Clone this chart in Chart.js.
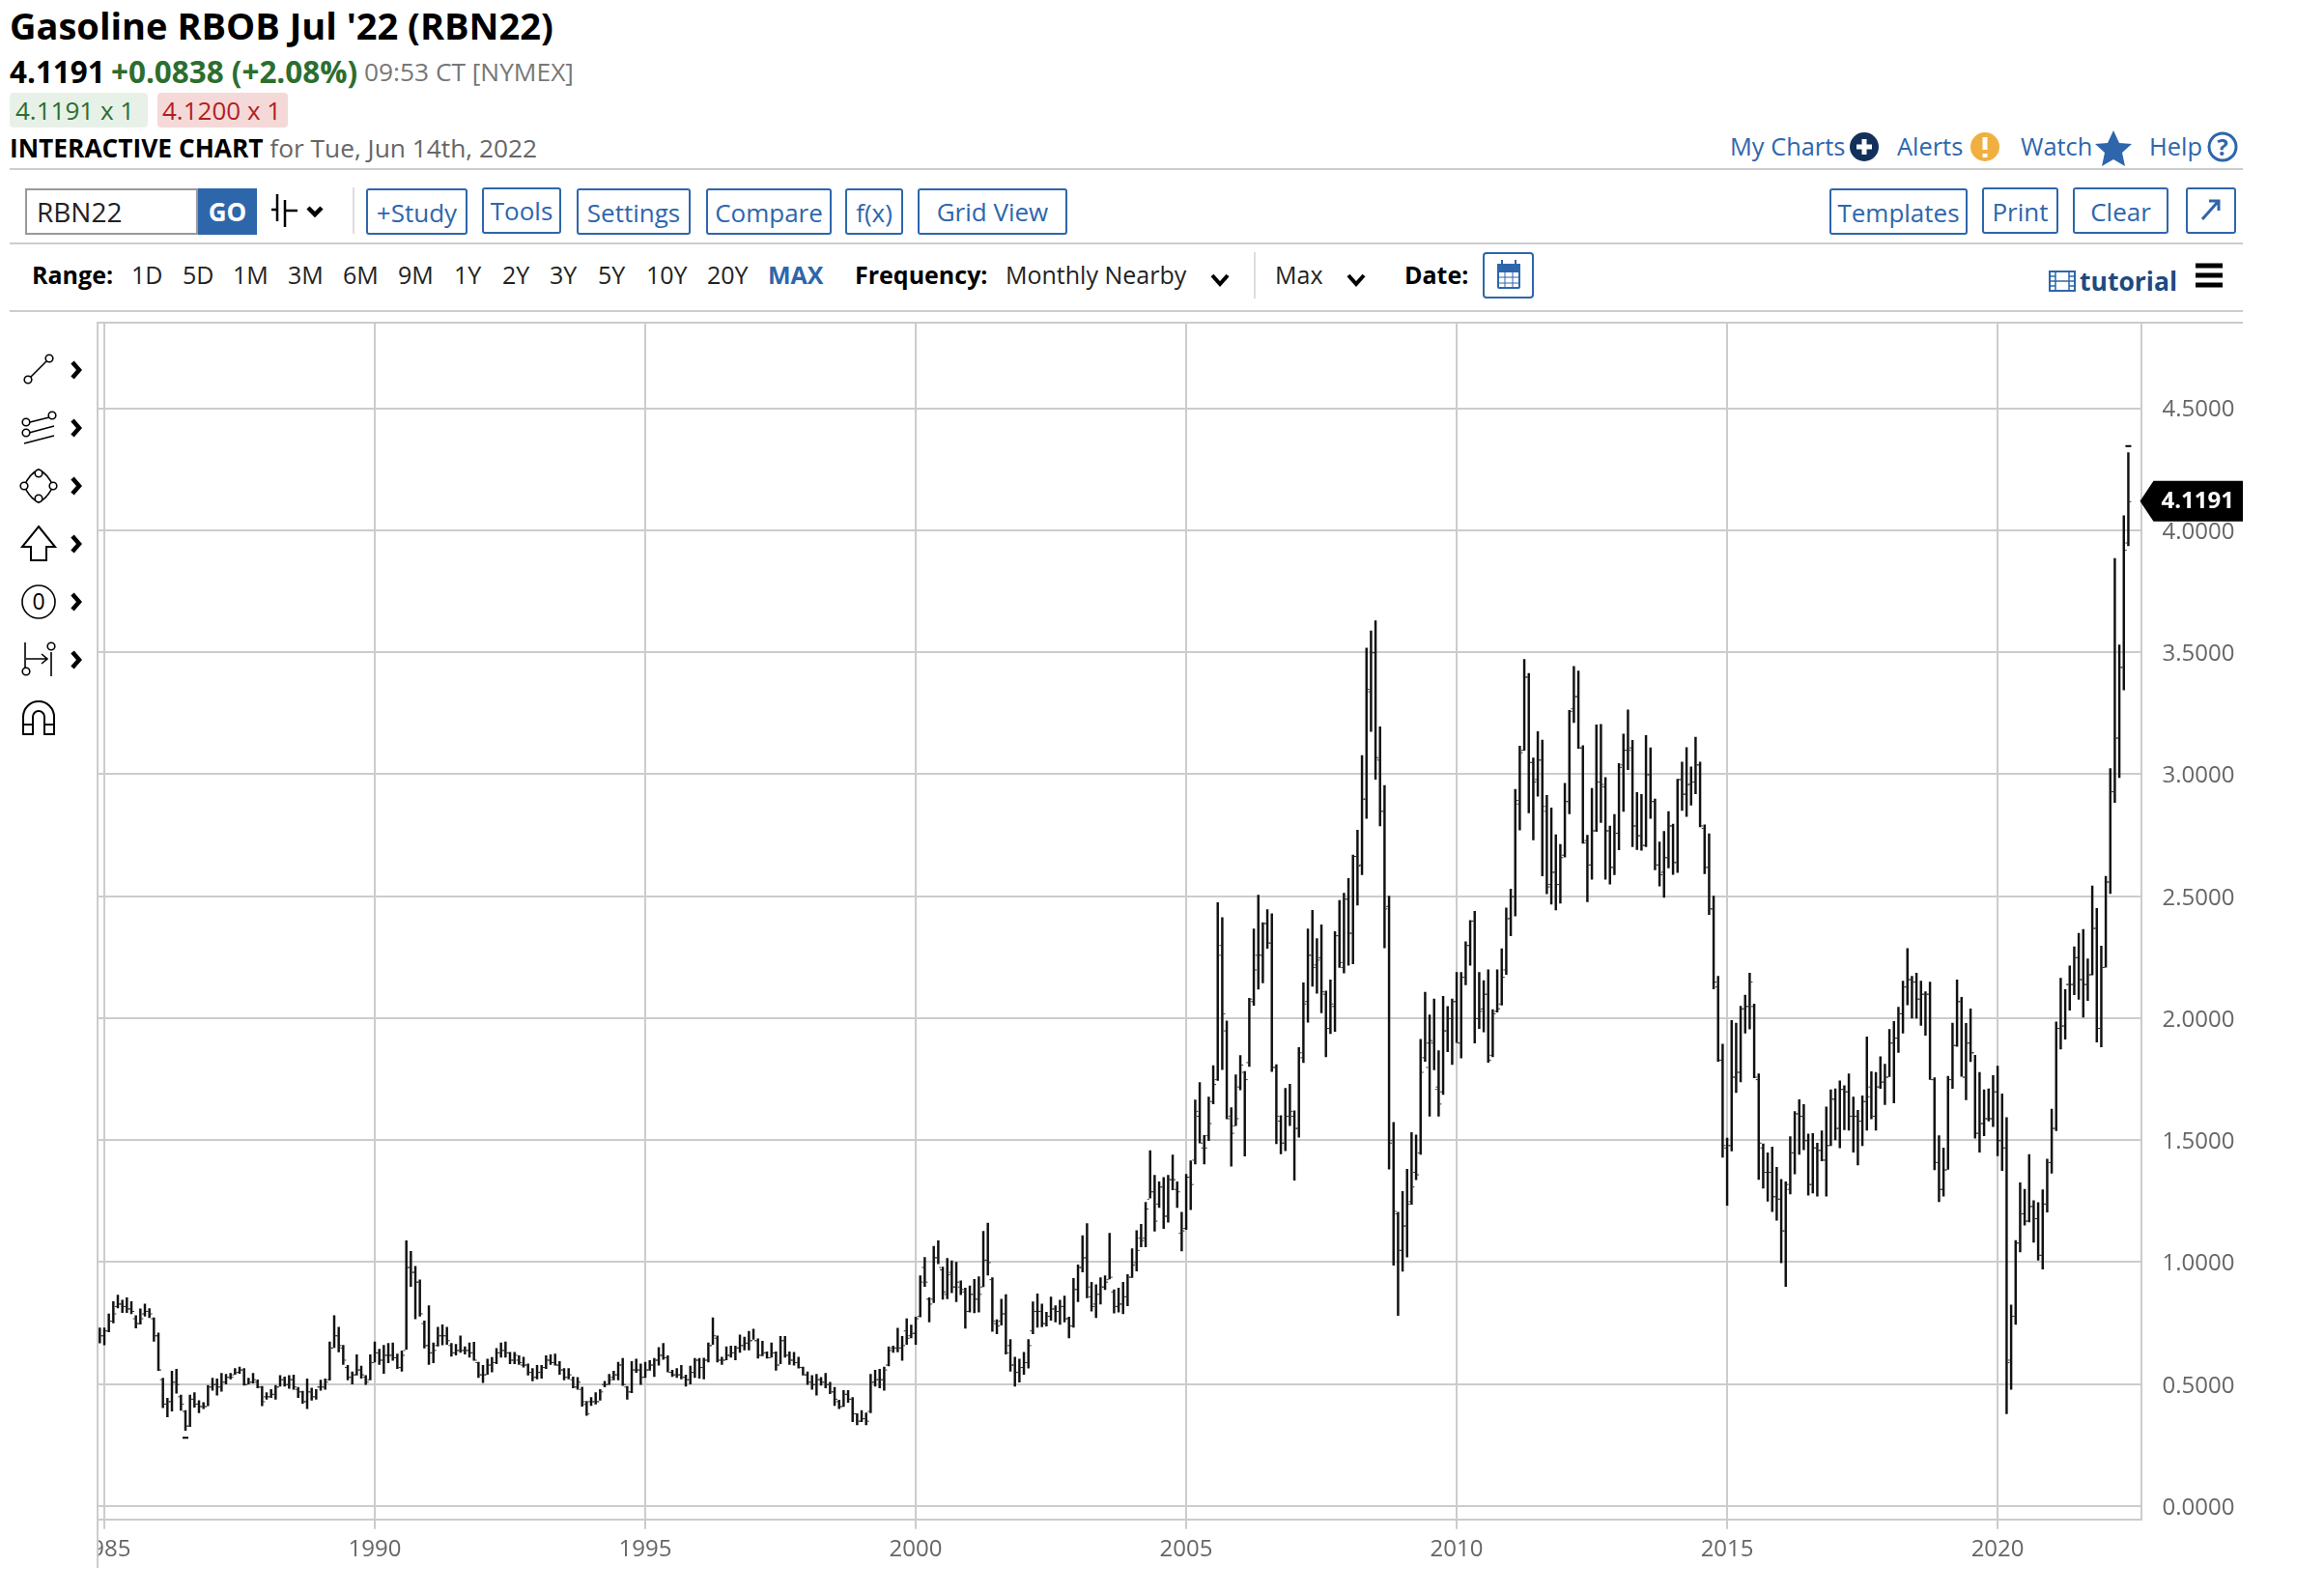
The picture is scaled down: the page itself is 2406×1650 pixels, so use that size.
<!DOCTYPE html>
<html>
<head>
<meta charset="utf-8">
<title>Gasoline RBOB Jul '22 (RBN22)</title>
<script src="https://cdn.jsdelivr.net/npm/chart.js@4"></script>
<style>
    html, body { margin: 0; padding: 0; background: #fff; }
    body { width: 2406px; height: 1650px; position: relative; overflow: hidden; font-family: 'Open Sans', sans-serif; }
    .t { position: absolute; white-space: nowrap; line-height: 1; }
    .rule { position: absolute; left: 10px; width: 2312px; height: 2px; background: #ccc; }
    .btn { position: absolute; top: 195px; height: 44px; border: 2px solid #2e66ac; border-radius: 3px; color: #2e66ac; font-size: 26px; text-align: center; line-height: 46px; box-sizing: content-box; }
    .blue { color: #2e66ac; }
    .r { top: 272px; font-size: 25px; color: #222; }
    .b { font-weight: 700; color: #000; }
    svg { position: absolute; }
    #chart { position: absolute; left: 101px; top: 333px; }
</style>
</head>
<body>
<div class="t" style="left:10px;top:7px;font-size:38px;font-weight:700;color:#000">Gasoline RBOB Jul '22 (RBN22)</div>
<div class="t" style="left:10px;top:58px;font-size:31.4px;font-weight:700;color:#000">4.1191</div>
<div class="t" style="left:115px;top:58px;font-size:31.4px;font-weight:700;color:#2c6e2f">+0.0838 (+2.08%)</div>
<div class="t" style="left:377px;top:61px;font-size:26.3px;color:#777">09:53 CT [NYMEX]</div>
<div class="t" style="left:10px;top:96px;width:143px;height:36px;background:#e8f1e8;border-radius:4px"></div>
<div class="t" style="left:163px;top:96px;width:135px;height:36px;background:#f5d9d9;border-radius:4px"></div>
<div class="t" style="left:16px;top:101px;font-size:26px;color:#2c6e2f">4.1191 x 1</div>
<div class="t" style="left:168px;top:101px;font-size:26px;color:#b02020">4.1200 x 1</div>
<div class="t" style="left:10px;top:140px;font-size:26.3px;color:#666"><span class="b">INTERACTIVE CHART</span> for Tue, Jun 14th, 2022</div>

<div class="t blue" style="left:1791px;top:139px;font-size:25.4px">My Charts</div>
<div class="t blue" style="left:1964px;top:139px;font-size:25.4px">Alerts</div>
<div class="t blue" style="left:2092px;top:139px;font-size:25.4px">Watch</div>
<div class="t blue" style="left:2225px;top:139px;font-size:25.4px">Help</div>
<svg style="left:1900px;top:130px" width="430" height="44" viewBox="0 0 430 44">
    <circle cx="30" cy="22" r="15" fill="#12305a"/>
    <path d="M30 14v16M22 22h16" stroke="#fff" stroke-width="5"/>
    <circle cx="155" cy="22" r="15" fill="#f0b040"/>
    <path d="M155 12v13M155 29v4" stroke="#fff" stroke-width="5"/>
    <path d="M288 5l6 13 13 1-10 9 3 14-12-7-12 7 3-14-10-9 13-1z" fill="#2e66ac"/>
    <circle cx="401" cy="22" r="14" fill="none" stroke="#2e66ac" stroke-width="3"/>
    <text x="401" y="31" font-size="24" font-weight="700" fill="#2e66ac" text-anchor="middle" font-family="Open Sans">?</text>
</svg>
<div class="rule" style="top:174px"></div>

<div style="position:absolute;left:26px;top:195px;width:175px;height:44px;border:2px solid #999"></div>
<div class="t" style="left:38px;top:205px;font-size:28px;color:#222">RBN22</div>
<div class="t" style="left:205px;top:195px;width:61px;height:48px;background:#2e66ac;color:#fff;font-weight:700;font-size:26px;line-height:48px;text-align:center">GO</div>
<svg style="left:278px;top:198px" width="62" height="40" viewBox="0 0 62 40">
    <path d="M9 3v28M3 19h6M17 9v28M17 20h7M24 20h6" stroke="#000" stroke-width="2.5" fill="none"/>
    <path d="M41 17l7 7 7-7" stroke="#000" stroke-width="4.5" fill="none"/>
</svg>
<div style="position:absolute;left:365px;top:194px;width:2px;height:48px;background:#ddd"></div>
<div class="btn" style="left:379px;width:101px">+Study</div>
<div class="btn" style="left:499px;top:194px;width:78px;line-height:44px">Tools</div>
<div class="btn" style="left:597px;width:114px">Settings</div>
<div class="btn" style="left:731px;width:126px">Compare</div>
<div class="btn" style="left:875px;width:56px">f(x)</div>
<div class="btn" style="left:950px;width:151px;line-height:44px">Grid View</div>
<div class="btn" style="left:1894px;width:139px">Templates</div>
<div class="btn" style="left:2052px;top:194px;width:75px">Print</div>
<div class="btn" style="left:2146px;top:194px;width:95px">Clear</div>
<div class="btn" style="left:2263px;top:194px;width:48px"></div>
<svg style="left:2263px;top:194px" width="52" height="48" viewBox="0 0 52 48">
    <path d="M17 33L33 15M24 14h10v10" stroke="#2e66ac" stroke-width="3" fill="none"/>
</svg>
<div class="rule" style="top:251px"></div>

<div class="t r b" style="left:33px">Range:</div>
<div class="t r" style="left:136px">1D</div>
<div class="t r" style="left:189px">5D</div>
<div class="t r" style="left:241px">1M</div>
<div class="t r" style="left:298px">3M</div>
<div class="t r" style="left:355px">6M</div>
<div class="t r" style="left:412px">9M</div>
<div class="t r" style="left:470px">1Y</div>
<div class="t r" style="left:520px">2Y</div>
<div class="t r" style="left:569px">3Y</div>
<div class="t r" style="left:619px">5Y</div>
<div class="t r" style="left:669px">10Y</div>
<div class="t r" style="left:732px">20Y</div>
<div class="t r" style="left:795px;font-weight:700;color:#2e66ac">MAX</div>
<div class="t r b" style="left:885px">Frequency:</div>
<div class="t r" style="left:1041px">Monthly Nearby</div>
<div class="t r" style="left:1320px">Max</div>
<div class="t r b" style="left:1454px">Date:</div>
<svg style="left:1250px;top:260px" width="345" height="52" viewBox="0 0 345 52">
    <path d="M5 25l8 9 8-9" stroke="#000" stroke-width="4" fill="none"/>
    <path d="M146 25l8 9 8-9" stroke="#000" stroke-width="4" fill="none"/>
    <rect x="286" y="2" width="51" height="46" rx="3" fill="none" stroke="#2e66ac" stroke-width="2"/>
    <rect x="301" y="14" width="22" height="24" rx="1" fill="none" stroke="#2e66ac" stroke-width="2"/>
    <path d="M301 14h22v7h-22zM305 9v6M319 9v6" fill="#2e66ac" stroke="#2e66ac" stroke-width="2"/>
    <path d="M301 27h22M301 33h22M308 21v17M316 21v17" stroke="#2e66ac" stroke-width="1"/>
</svg>
<div style="position:absolute;left:1298px;top:261px;width:2px;height:48px;background:#ddd"></div>
<svg style="left:2118px;top:278px" width="34" height="26" viewBox="0 0 34 26">
    <rect x="4" y="3" width="26" height="20" fill="none" stroke="#2e66ac" stroke-width="2"/>
    <path d="M10 3v20M24 3v20M4 13h26M4 8h6M4 18h6M24 8h6M24 18h6" stroke="#2e66ac" stroke-width="1.5"/>
</svg>
<div class="t" style="left:2153px;top:278px;font-size:26.5px;font-weight:700;color:#1e4a80">tutorial</div>
<svg style="left:2273px;top:272px" width="28" height="26" viewBox="0 0 28 26">
    <path d="M0 3h28M0 13h28M0 23h28" stroke="#000" stroke-width="5"/>
</svg>
<div class="rule" style="top:321px"></div>
<div class="rule" style="top:333px;left:101px;width:2221px"></div>

<svg style="left:0;top:340px" width="100" height="450" viewBox="0 0 100 450">
    <g fill="#fff" stroke="#000" stroke-width="1.6">
        <path d="M30 52L50 32"/><circle cx="29" cy="53" r="3.8"/><circle cx="51" cy="31" r="3.8"/>
        <path d="M31 97l20-5M30 108l26-7M25 119l31-8"/><circle cx="27" cy="97" r="3.8"/><circle cx="54" cy="90" r="3.8"/><circle cx="27" cy="108" r="3.8"/>
        <path d="M25 163q6-13 15-17q9 4 15 17q-6 13-15 17q-9-4-15-17z" fill="none"/>
        <circle cx="25" cy="163" r="3.8"/><circle cx="40" cy="150" r="3.8"/><circle cx="55" cy="163" r="3.8"/><circle cx="40" cy="176" r="3.8"/>
        <path d="M40 205l17 21h-9v14h-16v-14h-9z" fill="none" stroke-width="2"/>
        <circle cx="40" cy="283" r="17" fill="none"/>
        <path d="M26 325v30M27 342h22M43 337l6 5-6 5M53 335v25" fill="none"/><circle cx="27" cy="355" r="3.8"/><circle cx="53" cy="329" r="3.8"/>
        <path d="M24 420v-18a16 16 0 0 1 32 0v18h-10v-18a6 6 0 0 0-12 0v18zM24 410h10M46 410h10" fill="none" stroke-width="2"/>
    </g>
    <text x="40" y="291" font-size="23" text-anchor="middle" font-family="Open Sans" fill="#000">0</text>
    <g fill="none" stroke="#000" stroke-width="4.5">
        <path d="M75 35l7 8-7 8M75 95l7 8-7 8M75 155l7 8-7 8M75 215l7 8-7 8M75 275l7 8-7 8M75 335l7 8-7 8"/>
    </g>
</svg>
<canvas id="chart" width="2221" height="1317"></canvas>
<div style="position:absolute;left:100px;top:333px;width:2px;height:1290px;background:#ccc"></div>

<script>
// Maandbars RBOB vanaf december 1984, een rij per jaar
const firstYear = 1984 + 11 / 12;
const yearTicks = [1985, 1990, 1995, 2000, 2005, 2010, 2015, 2020];
const priceTicks = [0, 0.5, 1, 1.5, 2, 2.5, 3, 3.5, 4, 4.5];
const lastPrice = 4.1191;
const rangeHigh = 4.349;
const rangeLow = 0.284;

const highs = [
    .73,
    .73,.788,.838,.865,.844,.854,.838,.781,.808,.828,.809,.772,
    .709,.524,.442,.553,.561,.455,.392,.455,.465,.432,.424,.495,
    .524,.521,.544,.54,.544,.564,.57,.564,.524,.544,.517,.491,
    .465,.478,.495,.535,.529,.535,.537,.487,.471,.521,.484,.478,
    .516,.521,.673,.781,.733,.659,.577,.55,.62,.574,.535,.62,
    .673,.643,.659,.667,.669,.623,.636,1.088,1.044,.983,.927,.759,
    .821,.669,.733,.743,.733,.667,.663,.698,.653,.669,.672,.59,
    .577,.603,.609,.646,.669,.673,.63,.63,.616,.61,.583,.564,
    .577,.577,.616,.62,.623,.593,.564,.564,.529,.527,.488,.429,
    .445,.465,.478,.511,.54,.553,.59,.606,.491,.593,.603,.583,
    .59,.597,.606,.65,.667,.616,.557,.564,.577,.537,.574,.606,
    .606,.607,.669,.772,.698,.61,.653,.656,.656,.702,.693,.716,
    .725,.686,.676,.632,.669,.632,.696,.696,.632,.63,.61,.57,
    .55,.535,.54,.527,.544,.508,.487,.434,.474,.474,.445,.379,
    .392,.382,.54,.557,.561,.57,.653,.656,.729,.696,.768,.742,
    .775,.944,1.019,.854,1.065,1.088,.98,1.015,1.005,1.0,.923,.894,
    .903,.929,.94,1.126,1.16,.936,.764,.848,.867,.683,.61,.603,
    .63,.683,.837,.87,.828,.795,.857,.821,.844,.861,.775,.933,
    .989,1.108,1.158,.917,.907,.936,.944,1.118,.887,.894,.917,.949,
    1.055,1.129,1.155,1.245,1.457,1.356,1.329,1.347,1.356,1.439,1.329,1.204,
    1.36,1.415,1.665,1.736,1.519,1.677,1.805,2.474,2.412,1.989,1.633,1.768,
    1.847,1.782,2.082,2.366,2.504,2.392,2.445,2.428,1.809,1.6,1.712,1.729,
    1.62,1.88,2.145,2.366,2.442,2.326,2.383,2.111,2.157,2.355,2.483,2.512,
    2.573,2.669,2.771,3.077,3.517,3.587,3.629,3.194,2.954,2.5,1.573,1.204,
    1.29,1.381,1.531,1.521,1.913,2.106,2.013,2.079,1.867,2.09,2.048,2.079,
    2.188,2.188,2.313,2.4,2.438,2.188,2.154,2.198,2.035,2.198,2.285,2.452,
    2.529,2.938,3.115,3.471,3.413,3.067,3.175,3.14,2.913,2.862,2.752,2.712,
    2.963,3.262,3.442,3.423,3.117,2.75,2.942,3.202,3.204,2.987,2.788,2.835,
    3.044,3.165,3.264,3.139,2.925,2.917,3.159,3.108,2.898,2.722,2.766,2.847,
    2.795,2.98,3.05,3.109,3.03,3.152,3.05,2.792,2.756,2.5,2.172,1.894,
    1.508,1.991,1.98,2.049,2.095,2.185,2.058,1.772,1.485,1.448,1.472,1.389,
    1.339,1.329,1.514,1.617,1.666,1.646,1.525,1.527,1.488,1.538,1.636,1.706,
    1.71,1.743,1.723,1.772,1.677,1.622,1.682,1.923,1.781,1.778,1.842,1.811,
    1.954,1.987,2.045,2.152,2.286,2.172,2.185,2.152,2.108,2.148,1.756,1.518,
    1.468,1.762,1.98,2.157,2.086,1.979,2.038,1.848,1.778,1.706,1.71,1.765,
    1.803,1.69,1.593,.824,1.089,1.325,1.299,1.441,1.252,1.244,1.297,1.422,
    1.627,1.985,2.164,2.117,2.214,2.293,2.348,2.364,2.243,2.542,2.45,2.295,
    2.582,3.023,3.884,3.53,4.06,4.318
];

const lows = [
    .669,
    .661,.714,.751,.812,.793,.793,.788,.73,.746,.778,.772,.675,
    .556,.403,.366,.389,.463,.392,.31,.326,.405,.382,.399,.411,
    .474,.455,.471,.5,.521,.54,.544,.495,.5,.504,.484,.411,
    .438,.445,.438,.491,.491,.482,.478,.445,.421,.399,.434,.438,
    .474,.478,.516,.65,.632,.58,.517,.5,.537,.524,.498,.517,
    .59,.58,.544,.587,.597,.564,.553,.643,.9,.768,.778,.648,
    .58,.587,.656,.661,.663,.614,.619,.63,.623,.61,.597,.527,
    .506,.54,.55,.583,.61,.61,.583,.583,.58,.57,.537,.513,
    .521,.524,.564,.58,.577,.54,.517,.521,.484,.478,.409,.372,
    .412,.418,.434,.488,.498,.517,.517,.494,.438,.465,.548,.498,
    .527,.557,.531,.577,.601,.55,.531,.527,.521,.491,.5,.527,
    .524,.521,.59,.663,.59,.58,.599,.61,.599,.63,.64,.64,
    .683,.606,.616,.606,.61,.557,.583,.61,.58,.577,.566,.537,
    .498,.478,.455,.495,.484,.461,.412,.399,.408,.425,.346,.333,
    .346,.333,.382,.491,.484,.474,.574,.63,.632,.597,.663,.689,
    .663,.775,.9,.755,.834,.993,.848,.85,.874,.838,.867,.729,
    .795,.792,.795,.899,.947,.716,.706,.742,.623,.553,.491,.508,
    .54,.566,.706,.733,.735,.738,.762,.755,.745,.755,.689,.733,
    .838,.96,.854,.799,.772,.828,.887,.931,.791,.795,.788,.821,
    .937,.964,1.063,1.063,1.263,1.127,1.224,1.138,1.164,1.296,1.224,1.046,
    1.134,1.215,1.402,1.488,1.402,1.498,1.649,1.745,1.789,1.587,1.393,1.56,
    1.706,1.435,1.802,2.053,2.119,2.145,2.286,1.781,1.485,1.444,1.457,1.56,
    1.336,1.512,1.818,1.983,2.131,2.102,2.022,1.842,1.937,1.946,2.208,2.185,
    2.217,2.223,2.463,2.588,2.819,3.175,2.979,2.788,2.288,1.381,.987,.781,
    .963,1.021,1.237,1.338,1.442,1.823,1.598,1.788,1.598,1.687,1.862,1.81,
    1.9,1.837,2.137,2.217,1.898,1.958,1.944,1.819,1.842,2.025,2.054,2.179,
    2.338,2.419,2.771,3.098,2.842,2.731,2.91,2.583,2.51,2.467,2.444,2.471,
    2.66,2.838,3.212,3.106,2.717,2.477,2.569,2.765,2.802,2.569,2.55,2.588,
    2.69,2.848,3.019,2.703,2.691,2.688,2.703,2.819,2.608,2.542,2.495,2.616,
    2.589,2.597,2.852,2.827,2.873,2.92,2.784,2.592,2.425,2.12,1.823,1.43,
    1.233,1.456,1.695,1.739,1.939,1.956,1.756,1.339,1.303,1.25,1.207,1.171,
    .997,.9,1.279,1.362,1.442,1.461,1.274,1.283,1.27,1.415,1.27,1.477,
    1.501,1.468,1.543,1.541,1.451,1.398,1.477,1.541,1.587,1.541,1.712,1.646,
    1.761,1.653,1.86,1.939,2.055,2.0,2.0,1.97,1.93,1.749,1.378,1.248,
    1.27,1.38,1.712,1.884,1.762,1.665,1.822,1.508,1.451,1.518,1.578,1.556,
    1.436,1.375,.378,.478,.745,1.042,1.152,1.165,1.081,1.008,.971,1.205,
    1.365,1.539,1.873,1.914,2.033,2.096,2.077,2.004,2.072,2.177,1.902,1.882,
    2.209,2.511,2.884,2.986,3.346,3.937
];

const opens = [
    .68,
    .70,.72,.76,.82,.83,.82,.81,.77,.75,.79,.80,.77,
    .70,.52,.42,.43,.51,.45,.39,.33,.44,.42,.41,.41,
    .49,.50,.49,.51,.53,.54,.55,.56,.50,.51,.51,.49,
    .45,.45,.46,.49,.52,.50,.52,.48,.47,.43,.47,.45,
    .49,.49,.52,.65,.70,.65,.57,.53,.54,.56,.53,.52,
    .59,.63,.60,.62,.62,.61,.57,.64,.98,.96,.92,.75,
    .66,.63,.66,.70,.70,.66,.63,.64,.64,.64,.63,.59,
    .54,.54,.58,.59,.63,.64,.63,.60,.60,.58,.58,.55,
    .53,.55,.57,.60,.59,.58,.56,.53,.52,.49,.48,.42,
    .43,.43,.43,.50,.50,.53,.54,.58,.49,.47,.56,.56,
    .53,.56,.58,.60,.62,.61,.55,.54,.54,.53,.52,.55,
    .60,.57,.60,.66,.69,.60,.60,.62,.63,.65,.66,.67,
    .68,.68,.62,.63,.61,.63,.58,.68,.62,.60,.59,.57,
    .54,.51,.50,.52,.51,.50,.47,.43,.41,.46,.44,.38,
    .35,.36,.39,.51,.52,.52,.58,.65,.65,.65,.72,.70,
    .71,.78,.98,.85,.85,1.02,.97,.87,.96,.90,.90,.88,
    .80,.87,.85,.90,1.01,.93,.75,.76,.79,.66,.58,.55,
    .57,.59,.72,.80,.80,.75,.78,.81,.80,.82,.77,.74,
    .89,.98,1.02,.86,.83,.87,.90,.93,.88,.82,.83,.86,
    .94,1.0,1.10,1.10,1.26,1.29,1.24,1.31,1.19,1.34,1.30,1.12,
    1.14,1.35,1.42,1.60,1.47,1.52,1.66,1.75,2.30,1.95,1.60,1.56,
    1.72,1.78,1.82,2.07,2.26,2.26,2.39,2.31,1.80,1.58,1.49,1.60,
    1.60,1.55,1.84,2.07,2.26,2.22,2.25,2.10,1.96,2.05,2.34,2.21,
    2.49,2.35,2.665,2.63,2.90,3.34,3.50,3.06,2.85,2.46,1.50,1.20,
    1.05,1.15,1.25,1.37,1.45,1.84,1.90,1.90,1.72,1.70,1.95,2.00,
    2.07,1.90,2.17,2.30,2.40,2.00,2.04,2.10,1.85,2.03,2.06,2.20,
    2.41,2.50,2.88,3.10,3.40,3.05,2.98,3.06,2.85,2.55,2.60,2.55,
    2.67,2.89,3.27,3.32,3.11,2.73,2.63,2.77,2.97,2.95,2.77,2.62,
    2.76,3.04,3.10,3.11,2.79,2.75,2.71,3.00,2.89,2.63,2.60,2.66,
    2.79,2.64,2.98,2.92,2.96,2.97,3.04,2.78,2.62,2.45,2.13,1.83,
    1.47,1.48,1.76,1.78,2.04,2.05,2.05,1.75,1.47,1.37,1.37,1.27,
    1.26,1.13,1.30,1.45,1.61,1.60,1.50,1.32,1.47,1.46,1.42,1.48,
    1.67,1.55,1.71,1.70,1.60,1.60,1.58,1.66,1.72,1.60,1.72,1.74,
    1.76,1.90,1.92,2.02,2.13,2.16,2.15,2.08,2.10,2.10,1.75,1.41,
    1.30,1.38,1.75,1.89,2.07,1.76,1.90,1.86,1.53,1.57,1.59,1.59,
    1.70,1.50,1.47,.60,.78,1.08,1.20,1.17,1.23,1.18,1.03,1.24,
    1.41,1.55,1.96,1.97,2.14,2.14,2.25,2.16,2.14,2.18,2.37,1.96,
    2.21,2.56,2.93,3.15,3.44,3.95
];

const closes = [
    .70,
    .72,.76,.79,.83,.82,.81,.80,.75,.77,.80,.79,.70,
    .56,.42,.43,.51,.50,.42,.33,.44,.42,.41,.41,.49,
    .50,.49,.51,.53,.53,.55,.56,.50,.51,.52,.49,.43,
    .45,.46,.49,.52,.50,.52,.49,.47,.43,.47,.45,.49,
    .49,.51,.65,.70,.66,.60,.53,.54,.56,.54,.51,.59,
    .63,.60,.62,.62,.61,.57,.62,.98,.96,.92,.79,.66,
    .63,.64,.70,.70,.68,.63,.64,.64,.64,.63,.60,.54,
    .54,.58,.59,.63,.64,.63,.60,.62,.59,.58,.55,.53,
    .55,.57,.60,.59,.58,.56,.53,.54,.49,.51,.43,.38,
    .43,.43,.47,.50,.52,.54,.58,.50,.47,.56,.56,.53,
    .56,.58,.60,.62,.61,.55,.54,.54,.53,.52,.55,.60,
    .57,.60,.66,.70,.60,.60,.62,.63,.65,.66,.67,.68,
    .68,.62,.63,.61,.63,.58,.68,.62,.60,.59,.57,.54,
    .51,.50,.52,.51,.50,.47,.44,.41,.46,.44,.38,.35,
    .36,.35,.51,.52,.52,.56,.64,.65,.65,.66,.69,.71,
    .77,.92,.92,.83,1.02,.98,.88,.95,.90,.92,.89,.80,
    .87,.85,.87,1.01,1.00,.76,.74,.79,.63,.58,.55,.57,
    .59,.66,.80,.80,.75,.78,.81,.80,.82,.77,.74,.89,
    .98,1.02,.90,.82,.87,.90,.92,.94,.82,.83,.86,.94,
    .99,1.05,1.09,1.22,1.29,1.17,1.31,1.19,1.34,1.34,1.29,1.13,
    1.35,1.32,1.62,1.49,1.47,1.57,1.73,2.26,2.02,1.59,1.53,1.59,
    1.81,1.75,2.08,2.20,2.26,2.39,2.31,1.80,1.60,1.49,1.60,1.62,
    1.55,1.86,2.06,2.26,2.21,2.24,2.11,1.96,2.06,2.34,2.23,2.49,
    2.35,2.665,2.625,2.90,3.35,3.50,3.07,2.85,2.45,1.49,1.21,1.05,
    1.15,1.24,1.31,1.36,1.78,1.80,1.91,1.71,1.65,1.95,2.00,2.07,
    1.90,2.17,2.30,2.40,2.00,2.03,2.10,1.83,2.02,2.04,2.17,2.41,
    2.50,2.895,3.09,3.40,3.05,2.97,3.06,2.87,2.54,2.60,2.55,2.66,
    2.89,3.26,3.32,3.11,2.72,2.63,2.77,2.97,2.96,2.77,2.62,2.76,
    3.03,3.10,3.10,2.79,2.75,2.71,3.00,2.89,2.63,2.59,2.66,2.79,
    2.64,2.98,2.92,2.96,2.97,3.04,2.79,2.62,2.45,2.15,1.83,1.48,
    1.48,1.76,1.78,2.04,2.05,2.15,1.76,1.49,1.37,1.37,1.27,1.26,
    1.13,1.32,1.45,1.61,1.60,1.50,1.32,1.47,1.46,1.42,1.48,1.67,
    1.55,1.71,1.70,1.60,1.60,1.58,1.66,1.68,1.60,1.72,1.74,1.76,
    1.90,1.92,2.02,2.13,2.16,2.15,2.08,2.10,2.10,1.75,1.41,1.30,
    1.38,1.75,1.89,2.07,1.76,1.90,1.86,1.53,1.57,1.59,1.59,1.70,
    1.50,1.47,.59,.78,1.08,1.20,1.17,1.23,1.18,1.03,1.24,1.41,
    1.55,1.96,1.97,2.14,2.14,2.25,2.16,2.14,2.18,2.37,1.96,2.21,
    2.56,2.93,3.15,3.44,3.92,4.1191
];

const monthX = i => firstYear + i / 12;

// Open- en slotstreepjes plus de koerslabel rechts
const ohlcPlugin = {
    id: 'ohlc',
    afterDatasetsDraw(chart) {
        const { ctx, chartArea, scales: { x, y } } = chart;
        ctx.save();
        ctx.beginPath();
        ctx.rect(chartArea.left, chartArea.top, chartArea.width, chartArea.height);
        ctx.clip();
        ctx.fillStyle = '#333';
        highs.forEach((_, i) => {
            const px = x.getPixelForValue(monthX(i));
            ctx.fillRect(px - 3, y.getPixelForValue(opens[i]), 2, 1);
            ctx.fillRect(px + 1, y.getPixelForValue(closes[i]), 2, 1);
        });
        // hoogste en laagste koers
        ctx.fillStyle = '#000';
        ctx.fillRect(x.getPixelForValue(monthX(highs.length - 1)) - 3, y.getPixelForValue(rangeHigh), 6, 2);
        ctx.fillRect(x.getPixelForValue(monthX(19)) - 3, y.getPixelForValue(rangeLow), 6, 2);
        ctx.restore();
    },
    afterDraw(chart) {
        const { ctx, chartArea, scales: { y } } = chart;
        const py = y.getPixelForValue(lastPrice);
        ctx.save();
        ctx.fillStyle = '#000';
        ctx.beginPath();
        ctx.moveTo(chartArea.right - 1, py);
        ctx.lineTo(chartArea.right + 13, py - 21);
        ctx.lineTo(chart.width, py - 21);
        ctx.lineTo(chart.width, py + 21);
        ctx.lineTo(chartArea.right + 13, py + 21);
        ctx.closePath();
        ctx.fill();
        ctx.fillStyle = '#fff';
        ctx.font = '700 24px "Open Sans"';
        ctx.textAlign = 'left';
        ctx.textBaseline = 'middle';
        ctx.fillText(lastPrice.toFixed(4), chartArea.right + 21, py);
        ctx.restore();
    }
};

const chart = new Chart(document.getElementById('chart').getContext('2d'), {
    type: 'bar',
    data: {
        datasets: [{
            label: 'RBN22',
            data: highs.map((h, i) => ({ x: monthX(i), y: [lows[i], h] })),
            backgroundColor: '#111',
            barThickness: 1.8,
            borderSkipped: false
        }]
    },
    options: {
        responsive: false,
        animation: false,
        layout: { padding: 0 },
        plugins: { legend: { display: false }, tooltip: { enabled: false } },
        scales: {
            x: {
                type: 'linear',
                offset: false,
                min: 1984.875,
                max: 2022.65,
                grid: { offset: false, color: '#ccc', lineWidth: 2, tickLength: 10, tickColor: '#ccc' },
                border: { color: '#ccc', width: 2 },
                ticks: {
                    autoSkip: false,
                    maxRotation: 0,
                    padding: 7,
                    color: '#666',
                    font: { family: 'Open Sans', size: 24 },
                    callback: value => String(value)
                },
                afterBuildTicks(axis) { axis.ticks = yearTicks.map(value => ({ value })); },
                afterFit(axis) {
                    axis.height = 77.3;
                    axis.paddingLeft = 0;
                    axis.paddingRight = 0;
                }
            },
            y: {
                position: 'right',
                min: -0.0543,
                max: 4.855,
                grid: { color: '#ccc', lineWidth: 2, drawTicks: false },
                border: { color: '#ccc', width: 2 },
                ticks: {
                    padding: 22,
                    labelOffset: 2,
                    color: '#666',
                    font: { family: 'Open Sans', size: 24 },
                    callback: value => value.toFixed(4)
                },
                afterBuildTicks(axis) { axis.ticks = priceTicks.map(value => ({ value })); },
                afterFit(axis) {
                    axis.width = 105.5;
                    axis.paddingTop = 0;
                    axis.paddingBottom = 0;
                }
            }
        }
    },
    plugins: [ohlcPlugin]
});
</script>
</body>
</html>
